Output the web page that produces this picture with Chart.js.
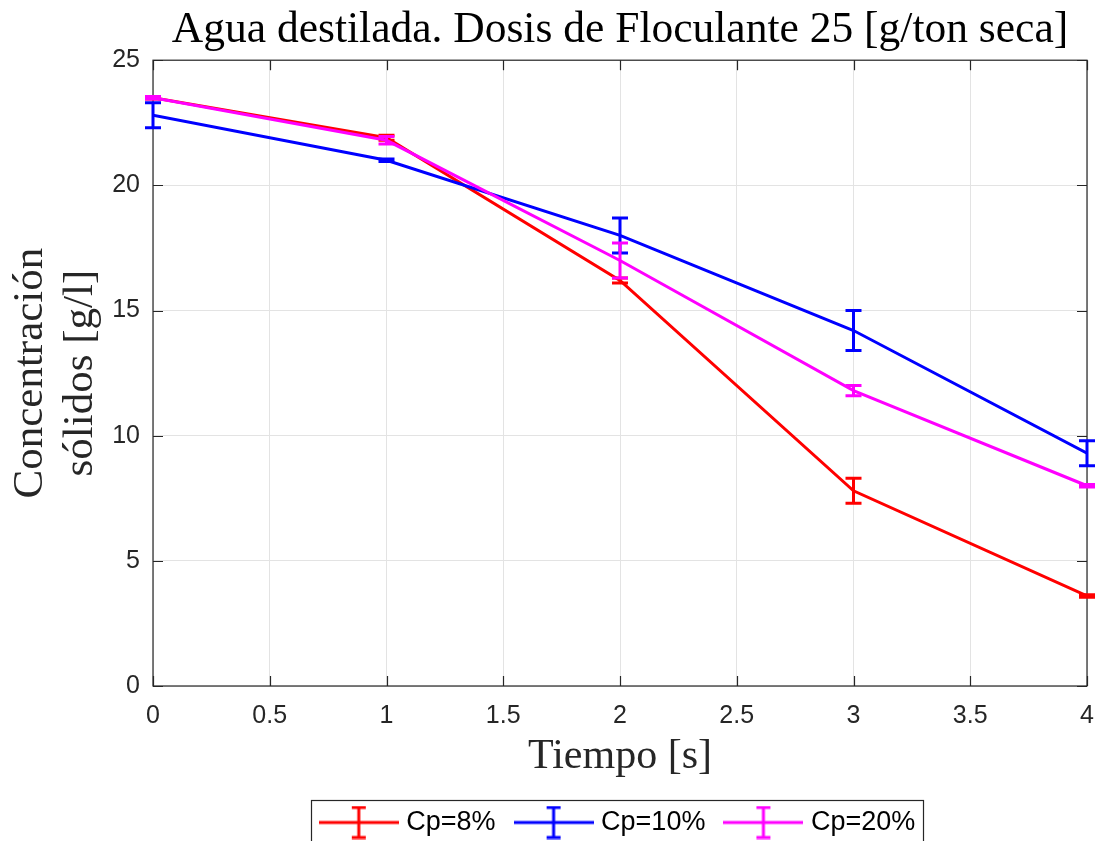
<!DOCTYPE html>
<html>
<head>
<meta charset="utf-8">
<script src="https://cdn.jsdelivr.net/npm/chart.js@4/dist/chart.umd.min.js"></script>
<style>
  html, body { margin: 0; padding: 0; background: #fff; }
</style>
</head>
<body>
<canvas id="chart" width="1099" height="841"></canvas>
<script>
// tiempo [s]
const tiempo = [0, 1, 2, 3, 4];

// concentración de sólidos [g/l] y error de cada punto
const cp8 = [23.5, 21.9, 16.2, 7.8, 3.6];
const cp8Err = [0.05, 0.1, 0.1, 0.5, 0.05];
const cp10 = [22.8, 21.0, 18.0, 14.2, 9.3];
const cp10Err = [0.5, 0.05, 0.7, 0.8, 0.5];
const cp20 = [23.5, 21.8, 17.0, 11.8, 8.0];
const cp20Err = [0.05, 0.15, 0.7, 0.2, 0.05];

const xTicks = [0, 0.5, 1, 1.5, 2, 2.5, 3, 3.5, 4];
const yTicks = [0, 5, 10, 15, 20, 25];

const axisColor = '#262626';
const serif = '"Liberation Serif", "DejaVu Serif", serif';
const sans = '"Liberation Sans", Arial, sans-serif';

function toPoints(ys) {
  return tiempo.map((t, i) => ({ x: t, y: ys[i] }));
}

// icono de leyenda: línea con barra de error
function legendIcon(color) {
  const c = document.createElement('canvas');
  c.width = 80; c.height = 34;
  const g = c.getContext('2d');
  g.strokeStyle = color;
  g.lineWidth = 3;
  g.beginPath();
  g.moveTo(0, 17); g.lineTo(80, 17);
  g.moveTo(40, 2); g.lineTo(40, 32);
  g.moveTo(33, 2); g.lineTo(47, 2);
  g.moveTo(33, 32); g.lineTo(47, 32);
  g.stroke();
  return c;
}

// barras de error dibujadas con las escalas del gráfico
const errorBars = {
  id: 'errorBars',
  afterDatasetDraw(chart, args) {
    const ds = chart.data.datasets[args.index];
    if (!ds.errors) return;
    const xs = chart.scales.x, ys = chart.scales.y;
    const ctx = chart.ctx;
    ctx.save();
    ctx.strokeStyle = ds.borderColor;
    ctx.lineWidth = 3;
    ds.data.forEach((p, i) => {
      const e = ds.errors[i];
      const px = xs.getPixelForValue(p.x);
      const top = ys.getPixelForValue(p.y + e);
      const bot = ys.getPixelForValue(p.y - e);
      ctx.beginPath();
      ctx.moveTo(px, top); ctx.lineTo(px, bot);
      ctx.moveTo(px - 8, top); ctx.lineTo(px + 8, top);
      ctx.moveTo(px - 8, bot); ctx.lineTo(px + 8, bot);
      ctx.stroke();
    });
    ctx.restore();
  }
};

// caja del eje con marcas hacia dentro, y marco de la leyenda
const boxAxes = {
  id: 'boxAxes',
  beforeDatasetsDraw(chart) {
    const { ctx, chartArea: a, scales } = chart;
    ctx.save();
    ctx.strokeStyle = axisColor;
    ctx.lineWidth = 1.2;
    ctx.strokeRect(a.left, a.top, a.right - a.left, a.bottom - a.top);
    ctx.beginPath();
    xTicks.forEach(v => {
      const px = Math.round(scales.x.getPixelForValue(v)) + 0.5;
      ctx.moveTo(px, a.bottom); ctx.lineTo(px, a.bottom - 10);
      ctx.moveTo(px, a.top); ctx.lineTo(px, a.top + 10);
    });
    yTicks.forEach(v => {
      const py = Math.round(scales.y.getPixelForValue(v)) + 0.5;
      ctx.moveTo(a.left, py); ctx.lineTo(a.left + 10, py);
      ctx.moveTo(a.right, py); ctx.lineTo(a.right - 10, py);
    });
    ctx.stroke();
    ctx.restore();
  },
  afterDraw(chart) {
    const boxes = chart.legend.legendHitBoxes;
    if (!boxes || !boxes.length) return;
    const ctx = chart.ctx;
    const left = boxes[0].left - 14;
    const last = boxes[boxes.length - 1];
    const right = last.left + last.width + 8;
    ctx.save();
    ctx.strokeStyle = axisColor;
    ctx.lineWidth = 1.2;
    ctx.strokeRect(Math.round(left) + 0.5, 800.5, Math.round(right - left), 60);
    ctx.restore();
  }
};

new Chart(document.getElementById('chart'), {
  type: 'line',
  data: {
    datasets: [{
      label: 'Cp=8%',
      data: toPoints(cp8),
      errors: cp8Err,
      borderColor: '#ff0000',
      pointStyle: legendIcon('#ff0000'),
      order: 3
    }, {
      label: 'Cp=10%',
      data: toPoints(cp10),
      errors: cp10Err,
      borderColor: '#0000ff',
      pointStyle: legendIcon('#0000ff'),
      order: 2
    }, {
      label: 'Cp=20%',
      data: toPoints(cp20),
      errors: cp20Err,
      borderColor: '#ff00ff',
      pointStyle: legendIcon('#ff00ff'),
      order: 1
    }]
  },
  options: {
    responsive: false,
    animation: false,
    elements: {
      line: { borderWidth: 3, tension: 0, fill: false },
      point: { radius: 0, hoverRadius: 0 }
    },
    layout: { padding: { top: 0, right: 0, bottom: -5, left: 0 } },
    plugins: {
      title: {
        display: true,
        fullSize: false,
        text: 'Agua destilada. Dosis de Floculante 25 [g/ton seca]',
        color: '#000',
        font: { family: serif, size: 43.5, weight: 'normal', lineHeight: 1.2 },
        padding: { top: 4, bottom: 4 }
      },
      legend: {
        position: 'bottom',
        fullSize: false,
        labels: {
          usePointStyle: true,
          pointStyleWidth: 68,
          color: '#000',
          font: { family: sans, size: 27 },
          padding: 24,
          sort: (a, b) => a.datasetIndex - b.datasetIndex
        }
      },
      tooltip: { enabled: false }
    },
    scales: {
      x: {
        type: 'linear',
        min: 0, max: 4,
        afterBuildTicks: s => { s.ticks = xTicks.map(v => ({ value: v })); },
        afterFit: s => { s.height = 99; s.paddingRight = 12; s.paddingLeft = 0; },
        border: { display: false },
        grid: { color: '#e3e3e3', lineWidth: 1, drawTicks: false },
        ticks: {
          color: axisColor,
          font: { family: sans, size: 25 },
          padding: 15,
          maxRotation: 0,
          callback: v => String(v)
        },
        title: {
          display: true,
          text: 'Tiempo [s]',
          color: '#262626',
          font: { family: serif, size: 42, lineHeight: 1.2 },
          padding: { top: 0, bottom: 3 }
        }
      },
      y: {
        min: 0, max: 25,
        afterBuildTicks: s => { s.ticks = yTicks.map(v => ({ value: v })); },
        afterFit: s => { s.width = 153; },
        border: { display: false },
        grid: { color: '#e3e3e3', lineWidth: 1, drawTicks: false },
        ticks: {
          color: axisColor,
          font: { family: sans, size: 25 },
          padding: 13,
          callback: v => String(v)
        },
        title: {
          display: true,
          text: ['Concentración', 'sólidos [g/l]'],
          color: '#262626',
          font: { family: serif, size: 43, lineHeight: 1.16 },
          padding: { top: 6, bottom: 0 }
        }
      }
    }
  },
  plugins: [errorBars, boxAxes]
});
</script>
</body>
</html>
